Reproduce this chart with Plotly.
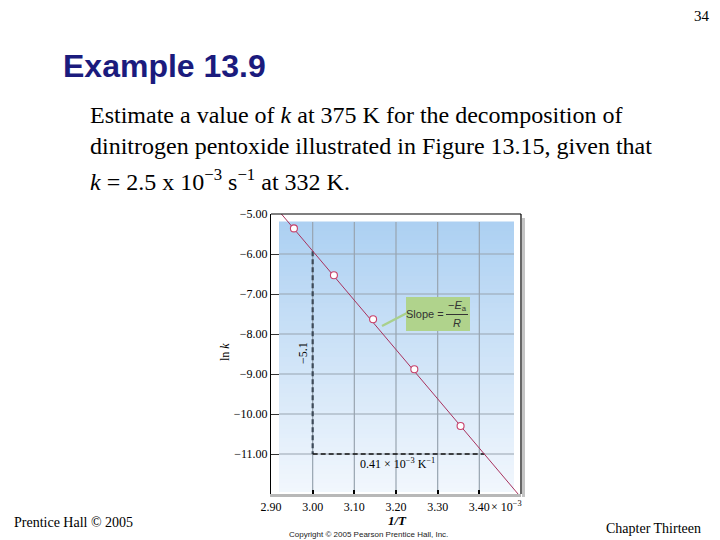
import plotly.graph_objects as go

# ---------------- data ----------------
inv_T = [2.955, 3.051, 3.145, 3.244, 3.355]        # 1/T  (x 10^-3 K^-1)
ln_k = [-5.36, -6.53, -7.63, -8.88, -10.30]         # ln k
fit_x = [2.925, 3.497]                              # best-fit line ends
fit_y = [-5.00, -12.05]
vert_x = [3.00, 3.00]                               # rise construction
vert_y = [-5.93, -11.00]
horiz_x = [3.00, 3.412]                             # run construction
horiz_y = [-11.00, -11.00]
x_ticks = [2.90, 3.00, 3.10, 3.20, 3.30, 3.40]
x_tick_text = ["2.90", "3.00", "3.10", "3.20", "3.30", "3.40"]
y_ticks = [-5, -6, -7, -8, -9, -10, -11]
y_tick_text = ["\u22125.00", "\u22126.00", "\u22127.00", "\u22128.00",
               "\u22129.00", "\u221210.00", "\u221211.00"]

W, H = 720, 540
SERIF = "Liberation Serif"
SANS = "Liberation Sans"

# plot area in pixels
L, R, T, B = 271, 521, 214, 494
dom_x = [L / W, R / W]
dom_y = [1 - B / H, 1 - T / H]


def px(x):
    return x / W


def py(y):
    return 1 - y / H


fig = go.Figure()

fig.add_trace(go.Scatter(x=vert_x, y=vert_y, mode="lines",
                         line=dict(color="#3d4a58", width=2.2, dash="5px,3px"),
                         hoverinfo="skip", showlegend=False))
fig.add_trace(go.Scatter(x=horiz_x, y=horiz_y, mode="lines",
                         line=dict(color="#111111", width=1.4, dash="5px,3px"),
                         hoverinfo="skip", showlegend=False))
fig.add_trace(go.Scatter(x=fit_x, y=fit_y, mode="lines",
                         line=dict(color="#a8325e", width=1),
                         hoverinfo="skip", showlegend=False))
fig.add_trace(go.Scatter(x=inv_T, y=ln_k, mode="markers",
                         marker=dict(symbol="circle", size=7, color="white",
                                     line=dict(color="#c8406a", width=1.1)),
                         showlegend=False))

shapes = []
# gradient background panel (inside the frame)
gx0, gx1 = (279 - L) / (R - L), (514 - L) / (R - L)
gy_top, gy_bot = (B - 222) / (B - T), (B - 492) / (B - T)
n = 60
c_top = (172, 208, 242)
c_bot = (242, 247, 253)
for i in range(n):
    f0 = i / n
    f1 = (i + 1) / n
    t = (f0 + f1) / 2
    c = tuple(int(round(c_bot[k] + (c_top[k] - c_bot[k]) * t)) for k in range(3))
    shapes.append(dict(type="rect", xref="x domain", yref="y domain", layer="below",
                       x0=gx0, x1=gx1,
                       y0=gy_bot + (gy_top - gy_bot) * f0,
                       y1=gy_bot + (gy_top - gy_bot) * f1 + 0.002,
                       fillcolor="rgb(%d,%d,%d)" % c, line=dict(width=0)))
# grid lines restricted to panel
for xv in x_ticks[1:]:
    shapes.append(dict(type="line", xref="x", yref="y domain", layer="below",
                       x0=xv, x1=xv, y0=0, y1=gy_top,
                       line=dict(color="#98a4b0", width=1.2)))
for yv in y_ticks[1:]:
    shapes.append(dict(type="line", xref="x domain", yref="y", layer="below",
                       x0=gx0, x1=gx1, y0=yv, y1=yv,
                       line=dict(color="#98a4b0", width=1.2)))
# frame: top line, right shadow
shapes.append(dict(type="line", xref="paper", yref="paper",
                   x0=px(L), x1=px(R), y0=py(T), y1=py(T),
                   line=dict(color="black", width=1.2)))
shapes.append(dict(type="rect", xref="paper", yref="paper",
                   x0=px(R + 1), x1=px(R + 4), y0=py(B + 3), y1=py(T + 4),
                   fillcolor="#c4c4c4", line=dict(width=0)))
shapes.append(dict(type="line", xref="paper", yref="paper",
                   x0=px(R), x1=px(R), y0=py(B), y1=py(T),
                   line=dict(color="black", width=1.2)))
# slope callout
shapes.append(dict(type="line", xref="paper", yref="paper",
                   x0=px(407), x1=px(382), y0=py(313), y1=py(326),
                   line=dict(color="#a9d08c", width=2.5)))
shapes.append(dict(type="rect", xref="paper", yref="paper",
                   x0=px(406), x1=px(470), y0=py(331), y1=py(297),
                   fillcolor="#b0d38c", line=dict(width=0)))
shapes.append(dict(type="line", xref="paper", yref="paper",
                   x0=px(446), x1=px(468), y0=py(314.5), y1=py(314.5),
                   line=dict(color="#333333", width=1)))

annotations = []


def ann(text, x, y, size, family=SERIF, color="black", xanchor="center",
        yanchor="middle", angle=0):
    annotations.append(dict(text=text, x=px(x), y=py(y), xref="paper", yref="paper",
                            showarrow=False, xanchor=xanchor, yanchor=yanchor,
                            textangle=angle,
                            font=dict(family=family, size=size, color=color)))


# slide text
ann("34", 712, 16, 15, xanchor="right")
ann("<b>Example 13.9</b>", 61, 66, 32, family=SANS, color="#1b1b7d", xanchor="left")
ann("Estimate a value of <i>k</i> at 375 K for the decomposition of", 88, 115, 24,
    xanchor="left")
ann("dinitrogen pentoxide illustrated in Figure 13.15, given that", 88, 146, 24,
    xanchor="left")
ann("<i>k</i> = 2.5 x 10<sup>\u22123</sup> s<sup>\u22121</sup> at 332 K.", 88, 180, 24,
    xanchor="left")
ann("Prentice Hall \u00a9 2005", 12, 522, 14, xanchor="left")
ann("Chapter Thirteen", 703, 528, 14, xanchor="right")

# chart text
ann("ln <i>k</i>", 225, 352, 12, angle=-90)
ann("<b><i>1/T</i></b>", 397, 520, 13)
ann("Copyright \u00a9 2005 Pearson Prentice Hall, Inc.", 369, 534, 8, family=SANS,
    color="#222222")
ann("\u00d7 10<sup>\u22123</sup>", 489, 506, 12, xanchor="left")
ann("\u22125.1", 303, 353, 12, angle=-90)
ann("0.41 \u00d7 10<sup>\u22123</sup> K<sup>\u22121</sup>", 397, 463, 12)
ann("Slope =", 425, 314, 11, family=SANS, color="#333333")
ann("\u2212<i>E</i><sub>a</sub>", 457, 306, 11, family=SANS, color="#333333")
ann("<i>R</i>", 457, 323, 11, family=SANS, color="#333333")

fig.update_layout(
    template="none",
    width=W, height=H, autosize=False,
    margin=dict(l=0, r=0, t=0, b=0, pad=0, autoexpand=False),
    paper_bgcolor="white", plot_bgcolor="white",
    shapes=shapes, annotations=annotations, showlegend=False,
    xaxis=dict(domain=dom_x, range=[2.90, 3.50], tickvals=x_ticks,
               ticktext=x_tick_text, showgrid=False, zeroline=False,
               automargin=False,
               showline=True, linecolor="#b8b8b8", linewidth=3,
               ticks="inside", ticklen=4, tickcolor="black", tickwidth=1.5,
               tickfont=dict(family=SERIF, size=12, color="black")),
    yaxis=dict(domain=dom_y, range=[-12, -5], tickvals=y_ticks,
               ticktext=y_tick_text, showgrid=False, zeroline=False,
               automargin=False,
               showline=True, linecolor="black", linewidth=1.2,
               ticks="inside", ticklen=8, tickcolor="#333333", tickwidth=1,
               tickfont=dict(family=SERIF, size=12, color="black")),
)

post = ("document.body.style.margin='0px';document.body.style.padding='0px';"
        "document.body.style.overflow='hidden';"
        "document.documentElement.style.overflow='hidden';")
fig.write_html("out.html", post_script=post,
               config={"displayModeBar": False, "responsive": False})
